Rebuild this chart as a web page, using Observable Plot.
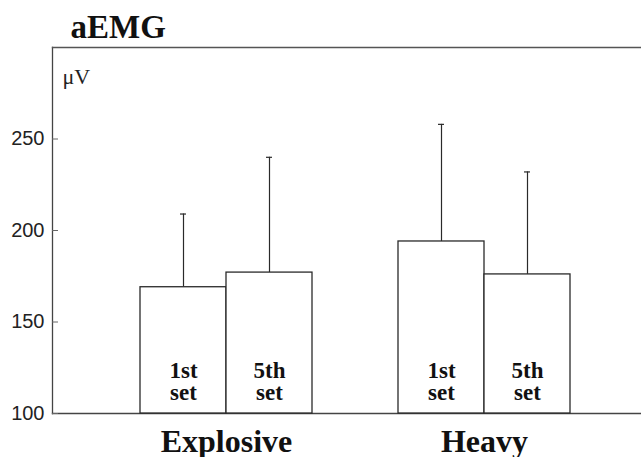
<!DOCTYPE html>
<html>
<head>
<meta charset="utf-8">
<script src="https://cdn.jsdelivr.net/npm/d3@7"></script>
<script src="https://cdn.jsdelivr.net/npm/@observablehq/plot@0.6"></script>
<style>
  html, body { margin: 0; padding: 0; background: #fff; }
  #chart svg { display: block; }
</style>
</head>
<body>
<div id="chart"></div>
<script>
// ---- data ----
const title = "aEMG";
const unitLabel = "μV";
const groups = ["Explosive", "Heavy"];
const sets = ["1st", "5th"];
const setLabels = ["1st\nset", "5th\nset"];
const means = [169, 177, 194, 176];      // Explosive 1st, Explosive 5th, Heavy 1st, Heavy 5th
const sds = [40, 63, 64, 56];            // upward error (SD)
const yDomain = [100, 300];
const yTicks = [100, 150, 200, 250];

// ---- build rows ----
const rows = [];
groups.forEach((g, gi) => sets.forEach((s, si) => {
  const i = gi * sets.length + si;
  rows.push({key: g + " " + s, group: g, set: s, label: setLabels[si], mean: means[i], sd: sds[i]});
}));
const spacer = " ";
const xDomain = [];
groups.forEach((g, gi) => {
  if (gi > 0) xDomain.push(spacer);
  sets.forEach(s => xDomain.push(g + " " + s));
});
const groupRows = groups.map(g => ({group: g, key: g + " " + sets[0]}));

const ink = "#2a2a2a";
const serif = "'Liberation Serif', 'Times New Roman', serif";

const base = {
  width: 641, height: 457,
  marginTop: 47, marginBottom: 44, marginLeft: 52, marginRight: 0,
  style: {background: "white", fontFamily: "'Liberation Sans', Arial, sans-serif"},
  x: {type: "band", domain: xDomain, paddingInner: 0, paddingOuter: 0.893, align: 0.555, axis: null},
  y: {domain: yDomain, axis: null, label: null}
};

const barMark = Plot.barY(rows, {x: "key", y1: yDomain[0], y2: "mean", fill: "white", stroke: ink, strokeWidth: 1.3});

// probe to read the band width from the scale
const probe = Plot.plot({...base, marks: [barMark]});
const bw = probe.scale("x").bandwidth;
const capW = 6;

const chart = Plot.plot({
  ...base,
  marks: [
    Plot.frame({anchor: "left", stroke: "#444", strokeWidth: 1.3}),
    Plot.frame({anchor: "top", stroke: "#555", strokeWidth: 1.3}),
    Plot.frame({anchor: "bottom", stroke: "#444", strokeWidth: 1.3}),
    Plot.axisY({ticks: yTicks, label: null, tickSize: 0, tickPadding: 8, fontSize: 20, fill: "#222"}),
    Plot.axisY({ticks: yTicks, label: null, text: null, tickSize: 6, dx: 6, stroke: "#666"}),
    Plot.ruleX(rows, {x: "key", y1: "mean", y2: d => d.mean + d.sd, stroke: ink, strokeWidth: 1.2}),
    Plot.tickY(rows, {x: "key", y: d => d.mean + d.sd, stroke: ink, strokeWidth: 1.2,
      insetLeft: (bw - capW) / 2, insetRight: (bw - capW) / 2}),
    barMark,
    Plot.text(rows, {x: "key", y: yDomain[0], text: "label", lineAnchor: "bottom", lineHeight: 0.93,
      dy: -14, fontSize: 23, fontWeight: "bold", fontFamily: serif, fill: "#111"}),
    Plot.text(groupRows, {x: "key", frameAnchor: "bottom", text: "group", dx: bw / 2, lineAnchor: "bottom",
      dy: 38, fontSize: 32, fontWeight: "bold", fontFamily: serif, fill: "#111"}),
    Plot.text([title], {frameAnchor: "top-left", text: d => d, textAnchor: "start", lineAnchor: "bottom",
      dx: 18, dy: -10, fontSize: 33, fontWeight: "bold", fontFamily: serif, fill: "#111"}),
    Plot.text([unitLabel], {frameAnchor: "top-left", text: d => d, textAnchor: "start", lineAnchor: "bottom",
      dx: 10, dy: 36, fontSize: 22, fontFamily: serif, fill: "#222"})
  ]
});
document.getElementById("chart").appendChild(chart);
</script>
</body>
</html>
